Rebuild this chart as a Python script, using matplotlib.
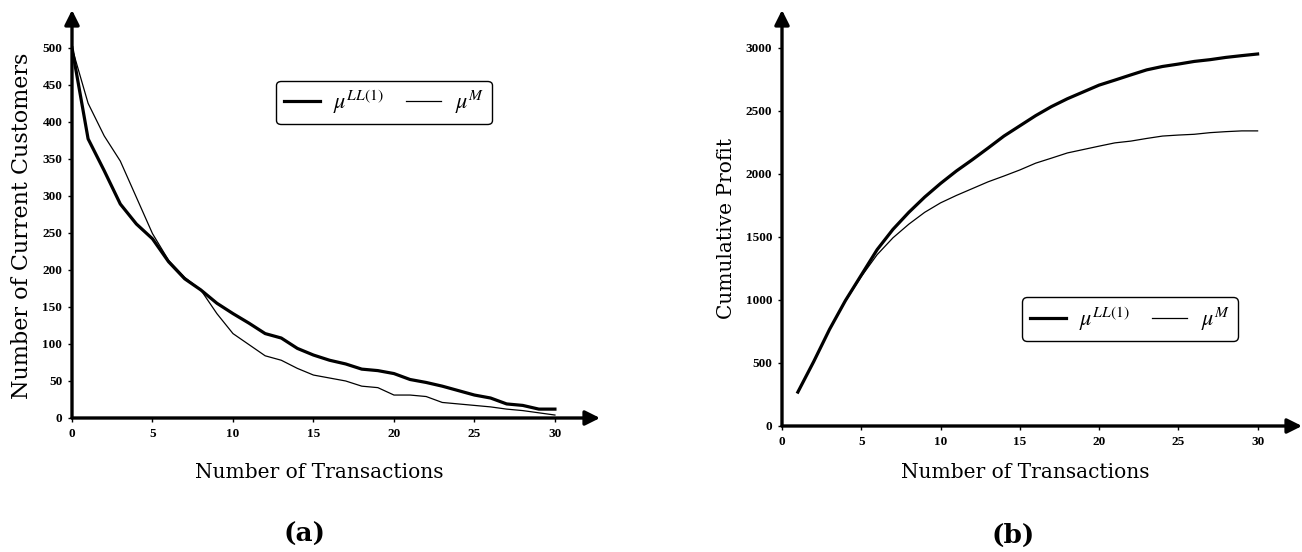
import numpy as np
import matplotlib.pyplot as plt

plt.rcParams['mathtext.fontset'] = 'stix'

# panel (a): number of current customers
x_a = np.arange(0, 31)
cust_ll1 = [500, 377, 334, 289, 262, 242, 211, 188, 173, 155, 141, 128, 114, 108, 94, 85,
            78, 73, 66, 64, 60, 52, 48, 43, 37, 31, 27, 19, 17, 12, 12]
cust_m = [500, 425, 381, 347, 298, 249, 213, 190, 173, 141, 114, 99, 84, 78, 67, 58,
          54, 50, 43, 41, 31, 31, 29, 21, 19, 17, 15, 12, 10, 7, 4]

# panel (b): cumulative profit
x_b = np.arange(1, 31)
profit_ll1 = [269, 511, 767, 995, 1197, 1399, 1560, 1695, 1816, 1924, 2023, 2112, 2205, 2300,
              2381, 2462, 2534, 2596, 2650, 2704, 2744, 2785, 2825, 2852, 2871, 2892, 2906,
              2924, 2938, 2951]
profit_m = [269, 511, 767, 990, 1185, 1359, 1493, 1601, 1695, 1770, 1829, 1883, 1937, 1983,
            2031, 2085, 2125, 2166, 2193, 2220, 2246, 2260, 2281, 2300, 2308, 2314, 2327,
            2335, 2341, 2341]

lab_ll1 = r'$\mu^{\mathit{LL(1)}}$'
lab_m = r'$\mu^{M}$'

W, H = 1302, 552
fig = plt.figure(figsize=(W / 100, H / 100), dpi=100)

def px_axes(x0, x1, y_top, y_bottom):
    return fig.add_axes([x0 / W, 1 - y_bottom / H, (x1 - x0) / W, (y_bottom - y_top) / H])

def ftext(x, y, s, **kw):
    fig.text(x / W, 1 - y / H, s, ha='center', va='center', family='DejaVu Serif', **kw)

def style(ax, xmax, ymax, yticks):
    for s in ax.spines.values():
        s.set_visible(False)
    ax.set_xlim(0, xmax)
    ax.set_ylim(0, ymax)
    ax.set_xticks(range(0, 31, 5))
    ax.set_yticks(yticks)
    ax.tick_params(length=3, width=1, labelsize=9.5, pad=4)
    for lab in ax.get_xticklabels() + ax.get_yticklabels():
        lab.set_family('Liberation Serif')
        lab.set_fontweight('bold')
    arrow = dict(arrowstyle='-|>', lw=2.4, color='black', mutation_scale=22,
                 shrinkA=0, shrinkB=0)
    ax.annotate('', xy=(1, 0), xytext=(0, 0), xycoords='axes fraction', arrowprops=arrow)
    ax.annotate('', xy=(0, 1), xytext=(0, 0), xycoords='axes fraction', arrowprops=arrow)

def add_legend(ax, cx, cy):
    ax.legend(loc='center', bbox_to_anchor=(cx / W, 1 - cy / H),
              bbox_transform=fig.transFigure, ncol=2, fontsize=16, frameon=True,
              fancybox=True, edgecolor='black', framealpha=1, handlelength=1.6,
              columnspacing=1.0, handletextpad=0.6, borderpad=0.35)

# (a)
ax1 = px_axes(72, 600, 10, 418)
ax1.plot(x_a, cust_ll1, color='black', lw=2.3, label=lab_ll1)
ax1.plot(x_a, cust_m, color='black', lw=0.9, label=lab_m)
style(ax1, 32.8, 551, range(0, 501, 50))
add_legend(ax1, 384, 102.5)

# (b)
ax2 = px_axes(782, 1302, 10, 426)
ax2.plot(x_b, profit_ll1, color='black', lw=2.3, label=lab_ll1)
ax2.plot(x_b, profit_m, color='black', lw=0.9, label=lab_m)
style(ax2, 32.8, 3300, range(0, 3001, 500))
add_legend(ax2, 1130, 319)

# axis titles and panel captions
ftext(319, 473, 'Number of Transactions', fontsize=14.5)
ftext(1025, 473, 'Number of Transactions', fontsize=14.5)
ftext(22, 226, 'Number of Current Customers', fontsize=16, rotation=90)
ftext(727, 228, 'Cumulative Profit', fontsize=14.5, rotation=90)
ftext(304, 534, '(a)', fontsize=19, fontweight='bold')
ftext(1013, 535, '(b)', fontsize=19, fontweight='bold')

fig.savefig('out.png', dpi=100)
